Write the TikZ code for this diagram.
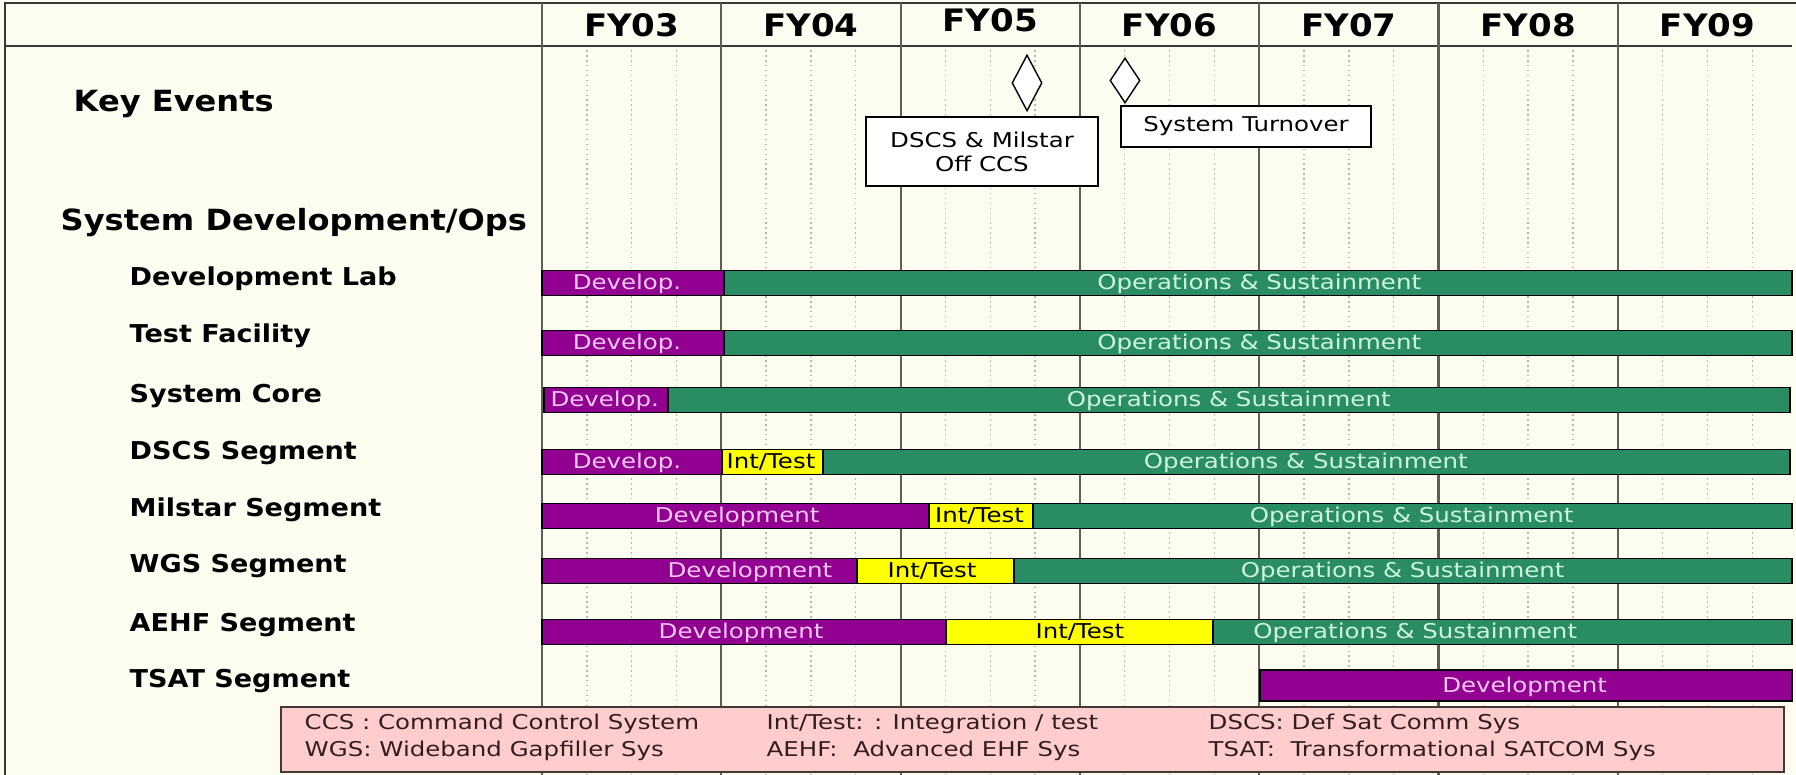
\documentclass[tikz,border=0pt]{standalone}
\usepackage{fontspec}
\usepackage{tikz}
\usetikzlibrary{shapes.geometric}
\newfontfamily\chartfont[FakeStretch=1.2]{DejaVu Sans}
\newfontfamily\chartbold[FakeStretch=1.1]{DejaVu Sans}
\definecolor{paper}{RGB}{252, 252, 240}
\definecolor{devcol}{RGB}{145, 0, 145}
\definecolor{devtxt}{RGB}{245, 200, 245}
\definecolor{opscol}{RGB}{42, 140, 98}
\definecolor{opstxt}{RGB}{205, 245, 225}
\definecolor{intcol}{RGB}{255, 255, 0}
\definecolor{keycol}{RGB}{255, 205, 205}
\definecolor{gridcol}{RGB}{95, 95, 85}
\newcommand{\phase}[7]{
  \draw[#1] (#3, #2 - 0.125) rectangle (#4, #2 + 0.125);
  \node[#1 text] (#7) at (#5, #2 - 0.07) {#6};
}

\begin{document}
\begin{tikzpicture}[
    bartext/.style={anchor=base, inner sep=0, font=\chartfont\fontsize{5.8}{7}\selectfont},
    devel/.style={draw=black, line width=0.5pt, fill=devcol},
    devel text/.style={bartext, text=devtxt},
    inttest/.style={draw=black, line width=0.5pt, fill=intcol},
    inttest text/.style={bartext, text=black},
    ops/.style={draw=black, line width=0.5pt, fill=opscol},
    ops text/.style={bartext, text=opstxt},
    rowlabel/.style={anchor=base west, inner sep=0, font=\chartbold\bfseries\fontsize{7}{8}\selectfont},
    section/.style={anchor=base west, inner sep=0, font=\chartbold\bfseries\fontsize{8.3}{9}\selectfont},
    yearlabel/.style={anchor=base, inner sep=0, font=\chartbold\bfseries\fontsize{8.8}{9}\selectfont},
    milestone/.style={diamond, draw=black, line width=0.4pt, fill=white, inner sep=0},
    eventbox/.style={draw=black, line width=0.6pt, fill=white, inner sep=0, align=center,
      font=\chartfont\fontsize{5.8}{6.8}\selectfont},
    keytext/.style={anchor=base west, inner sep=0, text={rgb,255:red,50;green,30;blue,30},
      font=\chartfont\fontsize{5.8}{7}\selectfont}
  ]
  \useasboundingbox (0, 0) rectangle (17.96, 7.75);
  \fill[paper] (0, 0) rectangle (17.96, 7.75);

  \draw[gridcol!60!black, line width=0.6pt] (0.05, 0) -- (0.05, 7.72) -- (17.96, 7.72);
  \draw[gridcol!60!black, line width=0.6pt] (0.05, 7.29) -- (17.92, 7.29);

  \node[section] (keyev) at (0.73, 6.63) {Key Events};
  \node[section] (sysdev) at (0.60, 5.44) {System Development/Ops};

  \node[rowlabel] (devlab) at (1.29, 4.89) {Development Lab};
  \node[rowlabel] (testfac) at (1.29, 4.32) {Test Facility};
  \node[rowlabel] (syscore) at (1.29, 3.72) {System Core};
  \node[rowlabel] (dscs) at (1.29, 3.15) {DSCS Segment};
  \node[rowlabel] (milstar) at (1.29, 2.58) {Milstar Segment};
  \node[rowlabel] (wgs) at (1.29, 2.02) {WGS Segment};
  \node[rowlabel] (aehf) at (1.29, 1.43) {AEHF Segment};
  \node[rowlabel] (tsat) at (1.29, 0.87) {TSAT Segment};

  \begin{scope}[shift={(5.42, 0)}, x=1.793cm]
    \foreach \k in {0,...,6}
      \foreach \q in {0.25, 0.5, 0.75}
        \draw[gridcol!45, line width=0.4pt, densely dotted] (\k + \q, 0) -- (\k + \q, 7.26);
    \foreach \k in {0,...,6}
      \draw[gridcol, line width=0.6pt] (\k, 0) -- (\k, 7.72);

    \foreach \yr/\yb [count=\k from 0] in {03/7.38, 04/7.38, 05/7.43, 06/7.38, 07/7.38, 08/7.38, 09/7.38}
      \node[yearlabel] (fy\yr) at (\k + 0.5, \yb) {FY\yr};

    \phase{devel}{4.92}{0}{1.015}{0.474}{Develop.}{labdev}
    \phase{ops}{4.92}{1.015}{6.972}{4.0}{Operations \& Sustainment}{labops}

    \phase{devel}{4.32}{0}{1.015}{0.474}{Develop.}{testdev}
    \phase{ops}{4.32}{1.015}{6.972}{4.0}{Operations \& Sustainment}{testops}

    \phase{devel}{3.75}{0.01}{0.703}{0.35}{Develop.}{coredev}
    \phase{ops}{3.75}{0.703}{6.96}{3.83}{Operations \& Sustainment}{coreops}

    \phase{devel}{3.13}{0}{1.004}{0.474}{Develop.}{dscsdev}
    \phase{inttest}{3.13}{1.004}{1.567}{1.277}{Int/Test}{dscsint}
    \phase{ops}{3.13}{1.567}{6.96}{4.26}{Operations \& Sustainment}{dscsops}

    \phase{devel}{2.59}{0}{2.158}{1.088}{Development}{milsdev}
    \phase{inttest}{2.59}{2.158}{2.738}{2.44}{Int/Test}{milsint}
    \phase{ops}{2.59}{2.738}{6.972}{4.85}{Operations \& Sustainment}{milsops}

    \phase{devel}{2.04}{0}{1.757}{1.16}{Development}{wgsdev}
    \phase{inttest}{2.04}{1.757}{2.632}{2.175}{Int/Test}{wgsint}
    \phase{ops}{2.04}{2.632}{6.972}{4.80}{Operations \& Sustainment}{wgsops}

    \phase{devel}{1.43}{0}{2.253}{1.11}{Development}{aehfdev}
    \phase{inttest}{1.43}{2.253}{3.742}{3.0}{Int/Test}{aehfint}
    \phase{ops}{1.43}{3.742}{6.972}{4.87}{Operations \& Sustainment}{aehfops}

    \draw[devel] (4.004, 0.74) rectangle (6.972, 1.05);
    \node[devel text] (tsatdev) at (5.48, 0.825) {Development};
  \end{scope}

  \node[milestone, minimum width=0.30cm, minimum height=0.56cm] (msccs) at (10.27, 6.92) {};
  \node[milestone, minimum width=0.30cm, minimum height=0.45cm] (msturn) at (11.25, 6.945) {};
  \node[eventbox, minimum width=2.32cm, minimum height=0.69cm] (offccs) at (9.82, 6.235)
    {DSCS \& Milstar\\Off CCS};
  \node[eventbox, minimum width=2.50cm, minimum height=0.41cm] (turnover) at (12.46, 6.485)
    {System Turnover};

  \draw[keycol, draw={rgb,255:red,70;green,55;blue,55}, line width=0.6pt, fill=keycol]
    (2.81, 0.03) rectangle (17.84, 0.68);
  \node[keytext] (keyccs) at (3.04, 0.45) {CCS : Command Control System};
  \node[keytext] (keywgs) at (3.04, 0.18) {WGS: Wideband Gapfiller Sys};
  \node[keytext] (keyint) at (7.66, 0.45) {Int/Test: : Integration / test};
  \node[keytext] (keyaehf) at (7.66, 0.18) {AEHF:\ \ Advanced EHF Sys};
  \node[keytext] (keydscs) at (12.08, 0.45) {DSCS: Def Sat Comm Sys};
  \node[keytext] (keytsat) at (12.08, 0.18) {TSAT:\ \ Transformational SATCOM Sys};
\end{tikzpicture}
\end{document}
